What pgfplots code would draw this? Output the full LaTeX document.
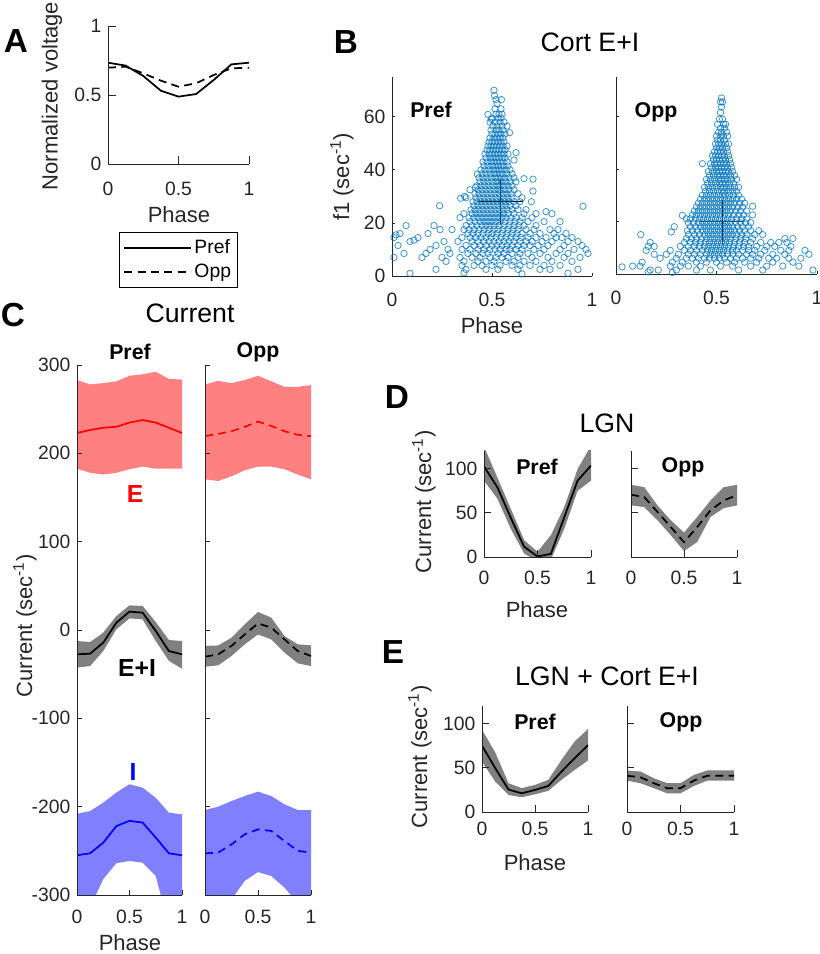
\documentclass[border=0pt]{standalone}
\usepackage{pgfplots}
\pgfplotsset{compat=1.18}
\usepackage{fontspec}
\setmainfont{Liberation Sans}
\definecolor{mgray}{gray}{0.15}
\definecolor{mblue}{rgb}{0,0.447,0.741}
\definecolor{efill}{rgb}{1,0.5,0.5}
\definecolor{ifill}{rgb}{0.5,0.5,1}
\definecolor{band}{gray}{0.5}
\newcommand{\fA}{\fontsize{25}{29}\selectfont\bfseries}
\newcommand{\fT}{\fontsize{20}{24}\selectfont}
\newcommand{\fL}{\fontsize{16.5}{20}\selectfont}
\newcommand{\fP}{\fontsize{16}{19}\selectfont\bfseries}
\newcommand{\fK}{\fontsize{14.5}{17}\selectfont}
\newcommand{\fG}{\fontsize{14.5}{17}\selectfont}
\newcommand{\fE}{\fontsize{18.5}{22}\selectfont\bfseries}
\pgfplotsset{
  mat/.style={scale only axis, anchor=south west,
    axis x line*=bottom, axis y line*=left, axis on top,
    tick align=inside,
    axis line style={draw=mgray, line width=0.6pt, -},
    every tick/.style={draw=mgray, line width=0.6pt},
    ticklabel style={font=\fK, text=mgray},
    yticklabel style={xshift=-1.5pt},
    /pgf/number format/assume math mode=true,
    xmin=0, xmax=1, xtick={0,0.5,1}},
  scat/.style={only marks, mark=o, mark size=2.4pt, mblue,
    mark options={draw=mblue, draw opacity=0.75, line width=0.6pt}},
  lw/.style={line width=1.3pt},
  dsh/.style={line width=1.3pt, dash pattern=on 6pt off 4pt},
}
\begin{document}
\begin{tikzpicture}
\path[use as bounding box] (0,0) rectangle (615pt,715.5pt);

% ---------------- A
\begin{axis}[mat, at={(81pt,592.5pt)}, width=105.75pt, height=103.5pt,
  xticklabel style={yshift=-10pt},
  ymin=0, ymax=1, ytick={0,0.5,1}, major tick length=6pt,
  legend style={at={(0.078,-0.493)}, anchor=north west, draw=black, line width=0.6pt,
    font=\fG, inner xsep=3pt, inner ysep=3.5pt, row sep=2.5pt, cells={anchor=west}},
  legend image code/.code={\draw[#1] (0pt,0pt) -- (50pt,0pt);}]
\addplot[black, lw] coordinates {(0,0.734)(0.125,0.713)(0.25,0.638)(0.375,0.531)(0.5,0.488)(0.625,0.507)(0.75,0.609)(0.875,0.722)(1,0.734)};
\addplot[black, dsh] coordinates {(0,0.698)(0.125,0.705)(0.25,0.657)(0.375,0.604)(0.5,0.56)(0.625,0.585)(0.75,0.645)(0.875,0.693)(1,0.698)};
\legend{Pref,Opp}
\end{axis}

% ---------------- B Pref
\begin{axis}[mat, at={(294pt,508.5pt)}, width=150pt, height=149.25pt,
  xticklabel style={yshift=-9.5pt},
  ymin=0, ymax=75, ytick={0,20,40,60}, major tick length=2.5pt]
\addplot[scat] coordinates {
(0.51,70)(0.513,68)(0.52,66.5)(0.547,66.5)(0.525,65)(0.515,63)(0.545,63)
(0.48,60.9)(0.52,61)(0.535,61)(0.55,61)(0.50,59.5)(0.53,59.5)(0.545,59.5)(0.497,59)
(0.49,58)(0.515,58)(0.54,58)(0.56,58)(0.505,56.5)(0.525,56.5)(0.55,56.5)(0.575,56.5)
(0.495,55)(0.52,55)(0.535,55)(0.555,55)(0.588,54)
(0.50,53.5)(0.515,53.5)(0.53,53.5)(0.545,53.5)(0.565,53.5)
(0.49,52)(0.51,52)(0.525,52)(0.54,52)(0.555,52)
(0.485,50.5)(0.50,50.5)(0.515,50.5)(0.53,50.5)(0.545,50.5)(0.56,50.5)
(0.48,49)(0.495,49)(0.51,49)(0.525,49)(0.54,49)(0.555,49)(0.575,49)
(0.475,47.5)(0.49,47.5)(0.505,47.5)(0.52,47.5)(0.535,47.5)(0.55,47.5)(0.565,47.5)
(0.465,46)(0.485,46)(0.50,46)(0.515,46)(0.53,46)(0.545,46)(0.56,46)(0.58,46)(0.62,46.5)
(0.47,44.5)(0.49,44.5)(0.505,44.5)(0.52,44.5)(0.535,44.5)(0.55,44.5)(0.565,44.5)
(0.455,43)(0.475,43)(0.495,43)(0.51,43)(0.525,43)(0.54,43)(0.555,43)(0.575,43)(0.61,43.7)
(0.46,41.5)(0.48,41.5)(0.50,41.5)(0.515,41.5)(0.53,41.5)(0.545,41.5)(0.56,41.5)(0.58,41.5)
(0.445,40)(0.465,40)(0.485,40)(0.505,40)(0.52,40)(0.535,40)(0.55,40)(0.57,40)(0.59,40)
(0.45,38.5)(0.47,38.5)(0.49,38.5)(0.51,38.5)(0.525,38.5)(0.54,38.5)(0.555,38.5)(0.575,38.5)(0.60,38.5)(0.427,38.4)
(0.435,37)(0.455,37)(0.475,37)(0.495,37)(0.515,37)(0.53,37)(0.545,37)(0.565,37)(0.585,37)(0.61,37)(0.66,36.7)(0.705,36.5)
(0.44,35.5)(0.46,35.5)(0.48,35.5)(0.50,35.5)(0.52,35.5)(0.535,35.5)(0.55,35.5)(0.57,35.5)(0.59,35.5)(0.62,35.5)
(0.425,34)(0.445,34)(0.465,34)(0.485,34)(0.505,34)(0.525,34)(0.54,34)(0.56,34)(0.58,34)(0.60,34)(0.417,33.4)
(0.43,32.5)(0.45,32.5)(0.47,32.5)(0.49,32.5)(0.51,32.5)(0.53,32.5)(0.545,32.5)(0.565,32.5)(0.585,32.5)(0.61,32.5)(0.39,32.5)(0.705,32)
(0.415,31)(0.435,31)(0.455,31)(0.475,31)(0.495,31)(0.515,31)(0.535,31)(0.555,31)(0.575,31)(0.595,31)(0.63,31)
(0.42,29.5)(0.44,29.5)(0.46,29.5)(0.48,29.5)(0.50,29.5)(0.52,29.5)(0.54,29.5)(0.56,29.5)(0.58,29.5)(0.60,29.5)(0.65,29.5)(0.37,29.5)(0.363,30)(0.343,29.3)
(0.405,28)(0.425,28)(0.445,28)(0.465,28)(0.485,28)(0.505,28)(0.525,28)(0.545,28)(0.565,28)(0.585,28)(0.61,28)(0.64,28)(0.697,28)
(0.41,26.5)(0.43,26.5)(0.45,26.5)(0.47,26.5)(0.49,26.5)(0.51,26.5)(0.53,26.5)(0.55,26.5)(0.57,26.5)(0.59,26.5)(0.62,26.5)(0.238,26.5)(0.955,26.3)
(0.395,25)(0.415,25)(0.435,25)(0.455,25)(0.475,25)(0.495,25)(0.515,25)(0.535,25)(0.555,25)(0.575,25)(0.60,25)(0.63,25)(0.67,25)
(0.40,23.5)(0.42,23.5)(0.44,23.5)(0.46,23.5)(0.48,23.5)(0.50,23.5)(0.52,23.5)(0.54,23.5)(0.56,23.5)(0.58,23.5)(0.61,23.5)(0.66,23.5)(0.36,23.5)(0.72,23.5)(0.80,23.5)(0.77,24.25)
(0.385,22)(0.41,22)(0.43,22)(0.45,22)(0.47,22)(0.49,22)(0.51,22)(0.53,22)(0.55,22)(0.57,22)(0.595,22)(0.62,22)(0.65,22)(0.70,22)(0.34,22)
(0.39,20.5)(0.415,20.5)(0.44,20.5)(0.46,20.5)(0.48,20.5)(0.50,20.5)(0.52,20.5)(0.54,20.5)(0.565,20.5)(0.59,20.5)(0.615,20.5)(0.64,20.5)(0.68,20.5)(0.76,20.5)(0.84,20.5)
(0.37,19)(0.40,19)(0.425,19)(0.45,19)(0.47,19)(0.49,19)(0.51,19)(0.535,19)(0.56,19)(0.585,19)(0.61,19)(0.635,19)(0.66,19)(0.72,19)(0.07,19)(0.21,19)
(0.36,17.5)(0.385,17.5)(0.41,17.5)(0.435,17.5)(0.46,17.5)(0.485,17.5)(0.51,17.5)(0.53,17.5)(0.555,17.5)(0.58,17.5)(0.605,17.5)(0.63,17.5)(0.67,17.5)(0.71,17.5)(0.79,17.5)(0.83,17.5)(0.30,17.5)(0.24,17.5)
(0.38,16)(0.405,16)(0.43,16)(0.455,16)(0.48,16)(0.50,16)(0.525,16)(0.55,16)(0.575,16)(0.60,16)(0.625,16)(0.65,16)(0.69,16)(0.74,16)(0.81,16)(0.87,16)(0.04,16)(0.02,15.5)(0.18,16)
(0.35,14.5)(0.39,14.5)(0.42,14.5)(0.445,14.5)(0.47,14.5)(0.495,14.5)(0.52,14.5)(0.545,14.5)(0.57,14.5)(0.595,14.5)(0.62,14.5)(0.645,14.5)(0.68,14.5)(0.72,14.5)(0.77,14.5)(0.82,14.5)(0.85,14.5)(0.90,14.5)(0.13,14.5)(0.01,14.5)
(0.33,13)(0.40,13)(0.43,13)(0.46,13)(0.485,13)(0.51,13)(0.535,13)(0.56,13)(0.585,13)(0.61,13)(0.64,13)(0.67,13)(0.70,13)(0.75,13)(0.80,13)(0.88,13)(0.93,13)(0.09,13)(0.11,13.5)(0.26,13)
(0.37,11.5)(0.41,11.5)(0.44,11.5)(0.47,11.5)(0.50,11.5)(0.525,11.5)(0.55,11.5)(0.575,11.5)(0.60,11.5)(0.63,11.5)(0.66,11.5)(0.69,11.5)(0.73,11.5)(0.78,11.5)(0.86,11.5)(0.95,11.5)(0.03,11.5)(0.22,11.5)
(0.35,10)(0.39,10)(0.43,10)(0.46,10)(0.49,10)(0.515,10)(0.54,10)(0.57,10)(0.59,10)(0.62,10)(0.65,10)(0.71,10)(0.76,10)(0.84,10)(0.91,10)(0.97,10)(0.19,10)(0.28,10)
(0.38,8.5)(0.42,8.5)(0.455,8.5)(0.48,8.5)(0.53,8.5)(0.56,8.5)(0.60,8.5)(0.64,8.5)(0.68,8.5)(0.74,8.5)(0.82,8.5)(0.88,8.5)(0.17,8.5)(0.29,8.5)(0.06,8.5)(0.98,8.5)
(0.34,7)(0.40,7)(0.44,7)(0.49,7)(0.52,7)(0.55,7)(0.58,7)(0.63,7)(0.70,7)(0.78,7)(0.86,7)(0.94,7)(0.01,7)(0.25,7)(0.15,7)
(0.36,5.5)(0.43,5.5)(0.47,5.5)(0.51,5.5)(0.57,5.5)(0.61,5.5)(0.66,5.5)(0.72,5.5)(0.80,5.5)(0.90,5.5)(0.27,5.5)
(0.35,4)(0.41,4)(0.45,4)(0.50,4)(0.54,4)(0.60,4)(0.64,4)(0.69,4)(0.76,4)(0.84,4)
(0.22,2.5)(0.37,2.5)(0.47,2.5)(0.53,2.5)(0.63,2.5)(0.74,2.5)(0.79,2.5)(0.93,2.5)
(0.09,1)(0.65,0.8)(0.36,1.2)(0.88,1)
};
\addplot[black, line width=0.9pt] coordinates {(0.428,28)(0.653,28)};
\addplot[black, line width=0.9pt] coordinates {(0.542,19.5)(0.542,36.4)};
\end{axis}

% ---------------- B Opp
\begin{axis}[mat, at={(462pt,510pt)}, width=150.75pt, height=147.75pt,
  xticklabel style={yshift=-9.5pt},
  ymin=0, ymax=75, ytick={0,20,40,60}, yticklabels={}, major tick length=2.5pt]
\addplot[scat] coordinates {
(0.525,67)(0.52,65.5)(0.53,65.5)(0.525,63.5)(0.52,61.5)(0.515,59)(0.53,59)
(0.505,57)(0.535,57)(0.545,57)(0.52,55.5)(0.54,55.5)(0.51,54)(0.525,54)(0.55,54)
(0.50,52.5)(0.52,52.5)(0.535,52.5)(0.555,52.5)(0.505,51)(0.52,51)(0.54,51)
(0.495,49.5)(0.51,49.5)(0.525,49.5)(0.545,49.5)(0.56,49.5)(0.50,48)(0.515,48)(0.53,48)(0.55,48)
(0.49,46.5)(0.505,46.5)(0.52,46.5)(0.535,46.5)(0.555,46.5)
(0.48,45)(0.495,45)(0.51,45)(0.525,45)(0.54,45)(0.56,45)
(0.485,43.5)(0.50,43.5)(0.515,43.5)(0.53,43.5)(0.545,43.5)(0.565,43.5)
(0.47,42)(0.49,42)(0.505,42)(0.52,42)(0.535,42)(0.55,42)(0.57,42)(0.43,42)
(0.475,40.5)(0.495,40.5)(0.51,40.5)(0.525,40.5)(0.54,40.5)(0.555,40.5)(0.575,40.5)
(0.46,39)(0.48,39)(0.50,39)(0.515,39)(0.53,39)(0.545,39)(0.56,39)(0.58,39)
(0.465,37.5)(0.485,37.5)(0.505,37.5)(0.52,37.5)(0.535,37.5)(0.55,37.5)(0.57,37.5)(0.59,37.5)
(0.45,36)(0.47,36)(0.49,36)(0.51,36)(0.525,36)(0.54,36)(0.555,36)(0.575,36)(0.60,36)
(0.455,34.5)(0.475,34.5)(0.495,34.5)(0.515,34.5)(0.53,34.5)(0.545,34.5)(0.565,34.5)(0.585,34.5)
(0.44,33)(0.46,33)(0.48,33)(0.50,33)(0.52,33)(0.535,33)(0.55,33)(0.57,33)(0.59,33)(0.61,33)
(0.445,31.5)(0.465,31.5)(0.485,31.5)(0.505,31.5)(0.525,31.5)(0.54,31.5)(0.56,31.5)(0.58,31.5)(0.60,31.5)
(0.43,30)(0.45,30)(0.47,30)(0.49,30)(0.51,30)(0.53,30)(0.545,30)(0.565,30)(0.585,30)(0.61,30)
(0.42,28.5)(0.44,28.5)(0.46,28.5)(0.48,28.5)(0.50,28.5)(0.52,28.5)(0.54,28.5)(0.56,28.5)(0.58,28.5)(0.60,28.5)(0.625,28.5)
(0.41,27)(0.43,27)(0.45,27)(0.47,27)(0.49,27)(0.51,27)(0.53,27)(0.55,27)(0.57,27)(0.59,27)(0.615,27)(0.64,27)
(0.40,25.5)(0.42,25.5)(0.44,25.5)(0.46,25.5)(0.48,25.5)(0.50,25.5)(0.52,25.5)(0.54,25.5)(0.56,25.5)(0.58,25.5)(0.605,25.5)(0.63,25.5)(0.68,25.8)
(0.39,24)(0.41,24)(0.43,24)(0.45,24)(0.47,24)(0.49,24)(0.51,24)(0.53,24)(0.55,24)(0.57,24)(0.595,24)(0.62,24)(0.65,24)
(0.38,22.5)(0.40,22.5)(0.42,22.5)(0.44,22.5)(0.46,22.5)(0.48,22.5)(0.50,22.5)(0.52,22.5)(0.54,22.5)(0.56,22.5)(0.585,22.5)(0.61,22.5)(0.635,22.5)(0.33,22.3)(0.68,22.5)
(0.37,21)(0.395,21)(0.415,21)(0.435,21)(0.455,21)(0.475,21)(0.495,21)(0.515,21)(0.535,21)(0.555,21)(0.575,21)(0.60,21)(0.625,21)(0.65,21)(0.35,21)
(0.36,19.5)(0.385,19.5)(0.41,19.5)(0.43,19.5)(0.45,19.5)(0.47,19.5)(0.49,19.5)(0.51,19.5)(0.53,19.5)(0.55,19.5)(0.57,19.5)(0.595,19.5)(0.62,19.5)(0.645,19.5)(0.67,19.5)
(0.37,18)(0.395,18)(0.42,18)(0.44,18)(0.46,18)(0.48,18)(0.50,18)(0.52,18)(0.54,18)(0.56,18)(0.58,18)(0.605,18)(0.63,18)(0.66,18)(0.29,18)
(0.355,16.5)(0.38,16.5)(0.405,16.5)(0.43,16.5)(0.45,16.5)(0.47,16.5)(0.49,16.5)(0.51,16.5)(0.53,16.5)(0.55,16.5)(0.57,16.5)(0.59,16.5)(0.615,16.5)(0.64,16.5)(0.67,16.5)(0.71,16.5)(0.275,16)
(0.36,15)(0.39,15)(0.415,15)(0.44,15)(0.46,15)(0.48,15)(0.50,15)(0.52,15)(0.54,15)(0.56,15)(0.58,15)(0.60,15)(0.625,15)(0.65,15)(0.69,15)(0.123,15)(0.73,15)
(0.35,13.5)(0.375,13.5)(0.40,13.5)(0.425,13.5)(0.45,13.5)(0.47,13.5)(0.49,13.5)(0.51,13.5)(0.53,13.5)(0.55,13.5)(0.57,13.5)(0.595,13.5)(0.62,13.5)(0.645,13.5)(0.68,13.5)(0.84,13.5)(0.88,13.5)
(0.34,12)(0.37,12)(0.395,12)(0.42,12)(0.445,12)(0.465,12)(0.485,12)(0.505,12)(0.525,12)(0.545,12)(0.565,12)(0.59,12)(0.615,12)(0.64,12)(0.67,12)(0.72,12)(0.77,12)(0.81,12)(0.17,12)(0.85,12)
(0.32,10.5)(0.36,10.5)(0.39,10.5)(0.415,10.5)(0.44,10.5)(0.46,10.5)(0.48,10.5)(0.50,10.5)(0.52,10.5)(0.54,10.5)(0.56,10.5)(0.585,10.5)(0.61,10.5)(0.635,10.5)(0.66,10.5)(0.70,10.5)(0.75,10.5)(0.79,10.5)(0.87,10.5)(0.16,10.5)(0.19,10.5)
(0.27,9)(0.34,9)(0.37,9)(0.40,9)(0.43,9)(0.455,9)(0.475,9)(0.495,9)(0.515,9)(0.535,9)(0.555,9)(0.58,9)(0.60,9)(0.63,9)(0.66,9)(0.69,9)(0.74,9)(0.82,9)(0.86,9)(0.15,9)(0.94,9)
(0.25,7.5)(0.31,7.5)(0.36,7.5)(0.39,7.5)(0.42,7.5)(0.45,7.5)(0.47,7.5)(0.49,7.5)(0.51,7.5)(0.53,7.5)(0.555,7.5)(0.58,7.5)(0.61,7.5)(0.65,7.5)(0.68,7.5)(0.72,7.5)(0.78,7.5)(0.84,7.5)(0.19,7.5)(0.96,7.5)
(0.22,6)(0.30,6)(0.35,6)(0.38,6)(0.41,6)(0.44,6)(0.465,6)(0.49,6)(0.515,6)(0.54,6)(0.57,6)(0.60,6)(0.63,6)(0.67,6)(0.71,6)(0.76,6)(0.80,6)(0.86,6)(0.92,6)
(0.28,4.5)(0.33,4.5)(0.40,4.5)(0.45,4.5)(0.50,4.5)(0.55,4.5)(0.59,4.5)(0.64,4.5)(0.70,4.5)(0.78,4.5)(0.88,4.5)(0.13,4.5)
(0.03,2.7)(0.083,3)(0.27,3)(0.32,3)(0.36,3)(0.42,3)(0.52,3)(0.58,3)(0.67,3)(0.75,3)(0.83,3)(0.91,3)(0.12,3)
(0.21,1.5)(0.30,1.5)(0.40,1.5)(0.47,1.5)(0.61,1.5)(0.73,1.5)(0.98,1.5)(0.17,1.5)(0.16,0.8)(0.28,0.6)
};
\addplot[black, line width=0.9pt] coordinates {(0.414,20)(0.638,20)};
\addplot[black, line width=0.9pt] coordinates {(0.529,11.2)(0.529,28)};
\end{axis}

% ---------------- C Pref
\begin{axis}[mat, at={(57.75pt,44.25pt)}, width=78.75pt, height=397.5pt,
  xticklabel style={yshift=-8pt},
  ymin=-300, ymax=300, ytick={-300,-200,-100,0,100,200,300}, major tick length=4pt]
\addplot[fill=efill, draw=none] coordinates {(0,283)(0.125,278)(0.25,279.5)(0.375,281.5)(0.5,287.8)(0.625,289.5)(0.75,292.3)(0.875,284.3)(1,283.5)
 (1,182.6)(0.875,182.6)(0.75,182.6)(0.625,185)(0.5,182)(0.375,178)(0.25,176)(0.125,178)(0,182.6)};
\addplot[red, lw] coordinates {(0,223)(0.125,226.4)(0.25,229)(0.375,230)(0.5,234.8)(0.625,237.7)(0.75,234.8)(0.875,229)(1,223)};
\addplot[fill=band, draw=none] coordinates {(0,-12.5)(0.125,-13.6)(0.25,-3)(0.375,15.8)(0.5,27.9)(0.625,27.2)(0.75,9)(0.875,-11.3)(1,-12.5)
 (1,-43.8)(0.875,-35)(0.75,-12.5)(0.625,12)(0.5,13.2)(0.375,0.8)(0.25,-23.8)(0.125,-40.8)(0,-42.6)};
\addplot[black, lw] coordinates {(0,-27.5)(0.125,-26.8)(0.25,-14.3)(0.375,8.3)(0.5,20.8)(0.625,19.6)(0.75,-1.1)(0.875,-23.8)(1,-27.5)};
\addplot[fill=ifill, draw=none] coordinates {(0,-208)(0.125,-205)(0.25,-195.5)(0.375,-184)(0.5,-174.7)(0.625,-178.5)(0.75,-190)(0.875,-206.8)(1,-208.7)
 (1,-340)(0.875,-335)(0.75,-278.5)(0.625,-263.4)(0.5,-261.5)(0.375,-264)(0.25,-282)(0.125,-314)(0,-318)};
\addplot[blue, lw] coordinates {(0,-255)(0.125,-252.8)(0.25,-240.8)(0.375,-222)(0.5,-216)(0.625,-218)(0.75,-235)(0.875,-252.8)(1,-255)};
\end{axis}

% ---------------- C Opp
\begin{axis}[mat, at={(153.75pt,44.25pt)}, width=79.5pt, height=397.5pt,
  xticklabel style={yshift=-8pt},
  ymin=-300, ymax=300, ytick={-300,-200,-100,0,100,200,300}, yticklabels={}, major tick length=4pt]
\addplot[fill=efill, draw=none] coordinates {(0,278)(0.125,282)(0.25,279.5)(0.375,283)(0.5,287.8)(0.625,281.5)(0.75,275.3)(0.875,275.3)(1,277.2)
 (1,170.6)(0.875,176)(0.75,182)(0.625,185)(0.5,185)(0.375,180.8)(0.25,174)(0.125,168.7)(0,170.6)};
\addplot[red, dsh] coordinates {(0,219.6)(0.125,222)(0.25,225)(0.375,230)(0.5,236)(0.625,231)(0.75,225)(0.875,221)(1,219.3)};
\addplot[fill=band, draw=none] coordinates {(0,-18)(0.125,-17.5)(0.25,-8.7)(0.375,6.4)(0.5,20.4)(0.625,14)(0.75,-6.8)(0.875,-16.2)(1,-17.4)
 (1,-40.8)(0.875,-37.7)(0.75,-25.6)(0.625,-10.6)(0.5,-5)(0.375,-16.2)(0.25,-29.4)(0.125,-40)(0,-41.5)};
\addplot[black, dsh] coordinates {(0,-30.2)(0.125,-27.5)(0.25,-18)(0.375,-5)(0.5,7.5)(0.625,2.6)(0.75,-10.6)(0.875,-23.8)(1,-29.4)};
\addplot[fill=ifill, draw=none] coordinates {(0,-203.8)(0.125,-200)(0.25,-193.6)(0.375,-188)(0.5,-183)(0.625,-188)(0.75,-197.3)(0.875,-203.8)(1,-204)
 (1,-330)(0.875,-309)(0.75,-291.7)(0.625,-278.5)(0.5,-274)(0.375,-284)(0.25,-305)(0.125,-330)(0,-345)};
\addplot[blue, dsh] coordinates {(0,-252.8)(0.125,-252)(0.25,-242.7)(0.375,-231.3)(0.5,-225.7)(0.625,-227.5)(0.75,-238.9)(0.875,-250)(1,-252)};
\end{axis}

% ---------------- D Pref
\begin{axis}[mat, at={(363pt,297.75pt)}, width=80.25pt, height=79.5pt,
  xticklabel style={yshift=-7pt},
  ymin=0, ymax=120, ytick={0,50,100}, major tick length=5pt]
\addplot[fill=band, draw=none] coordinates {(0,125)(0.125,90)(0.25,54.7)(0.375,19)(0.5,6)(0.625,24.7)(0.75,56.5)(0.875,99.6)(1,126)
 (1,86.5)(0.875,75)(0.75,32)(0.625,-3)(0.5,-5)(0.375,4)(0.25,32)(0.125,66)(0,86.5)};
\addplot[black, lw] coordinates {(0,102.6)(0.125,79)(0.25,44.5)(0.375,11.6)(0.5,0.6)(0.625,3.6)(0.75,45)(0.875,86.5)(1,103.4)};
\end{axis}

% ---------------- D Opp
\begin{axis}[mat, at={(473.25pt,297.75pt)}, width=79.5pt, height=79.5pt,
  xticklabel style={yshift=-7pt},
  ymin=0, ymax=120, ytick={0,50,100}, yticklabels={}, major tick length=5pt]
\addplot[fill=band, draw=none] coordinates {(0,81.7)(0.125,79)(0.25,58.4)(0.375,41.6)(0.5,27.7)(0.625,45.3)(0.75,64)(0.875,79)(1,81.7)
 (1,58.4)(0.875,55.4)(0.75,45.3)(0.625,17)(0.5,6.7)(0.375,24.7)(0.25,41.6)(0.125,56.5)(0,58.4)};
\addplot[black, dsh] coordinates {(0,70.6)(0.125,67.8)(0.25,51)(0.375,34)(0.5,16.8)(0.625,34)(0.75,52.8)(0.875,64)(1,70)};
\end{axis}

% ---------------- E Pref
\begin{axis}[mat, at={(361.5pt,106.5pt)}, width=79.5pt, height=79.5pt,
  xticklabel style={yshift=-4pt},
  ymin=0, ymax=120, ytick={0,50,100}, major tick length=5pt]
\addplot[fill=band, draw=none] coordinates {(0,93)(0.125,67.4)(0.25,32.6)(0.375,27)(0.5,30.7)(0.625,36.4)(0.75,59)(0.875,80)(1,94)
 (1,58.3)(0.875,47.7)(0.75,36.4)(0.625,24)(0.5,20)(0.375,16.7)(0.25,19.3)(0.125,34.5)(0,57)};
\addplot[black, lw] coordinates {(0,75.2)(0.125,49.6)(0.25,25.4)(0.375,21.2)(0.5,25)(0.625,29.5)(0.75,45.8)(0.875,61)(1,75.7)};
\end{axis}

% ---------------- E Opp
\begin{axis}[mat, at={(470.25pt,106.5pt)}, width=80.25pt, height=79.5pt,
  xticklabel style={yshift=-4pt},
  ymin=0, ymax=120, ytick={0,50,100}, yticklabels={}, major tick length=5pt]
\addplot[fill=band, draw=none] coordinates {(0,47)(0.125,45.8)(0.25,38.3)(0.375,32.6)(0.5,32.6)(0.625,42)(0.75,47)(0.875,47)(1,47)
 (1,35.6)(0.875,35.6)(0.75,35.6)(0.625,29.5)(0.5,21.2)(0.375,21.2)(0.25,27)(0.125,32.6)(0,35.6)};
\addplot[black, dsh] coordinates {(0,41)(0.125,39.4)(0.25,32.6)(0.375,27)(0.5,27)(0.625,35.6)(0.75,41)(0.875,41)(1,41)};
\end{axis}

% ---------------- texts (pixel coordinates, y downwards)
\begin{scope}[x=0.75pt,y=-0.75pt,shift={(0pt,715.5pt)}]
\node[font=\fA] at (16,41) {A};
\node[font=\fA] at (346,42) {B};
\node[font=\fA] at (13,315) {C};
\node[font=\fA] at (397,397) {D};
\node[font=\fA] at (393,652) {E};
% A
\node[font=\fL, text=mgray, rotate=90] at (52,96) {Normalized voltage};
\node[font=\fL, text=mgray] at (179,215) {Phase};
% B
\node[font=\fT] at (590,42) {Cort E+I};
\node[font=\fP] at (431,110) {Pref};
\node[font=\fP] at (656,112) {Opp};
\node[font=\fL, text=mgray, rotate=90] at (342,177) {f1 (sec\textsuperscript{-1})};
\node[font=\fL, text=mgray] at (492,326) {Phase};
% C
\node[font=\fT] at (190,313) {Current};
\node[font=\fP] at (130,352) {Pref};
\node[font=\fP] at (258,352) {Opp};
\node[font=\fE, text=red] at (135,494) {E};
\node[font=\fE] at (137,668) {E+I};
\node[font=\fE, text=blue] at (133,772) {I};
\node[font=\fL, text=mgray, rotate=90] at (25,626) {Current (sec\textsuperscript{-1})};
\node[font=\fL, text=mgray] at (130,943) {Phase};
% D
\node[font=\fT] at (607,423) {LGN};
\node[font=\fP] at (537,467) {Pref};
\node[font=\fP] at (683,467) {Opp};
\node[font=\fL, text=mgray, rotate=90] at (424,502) {Current (sec\textsuperscript{-1})};
\node[font=\fL, text=mgray] at (537,610) {Phase};
% E
\node[font=\fT] at (607,676) {LGN + Cort E+I};
\node[font=\fP] at (535,722) {Pref};
\node[font=\fP] at (681,722) {Opp};
\node[font=\fL, text=mgray, rotate=90] at (420,757) {Current (sec\textsuperscript{-1})};
\node[font=\fL, text=mgray] at (535,863) {Phase};
\end{scope}
\end{tikzpicture}
\end{document}
